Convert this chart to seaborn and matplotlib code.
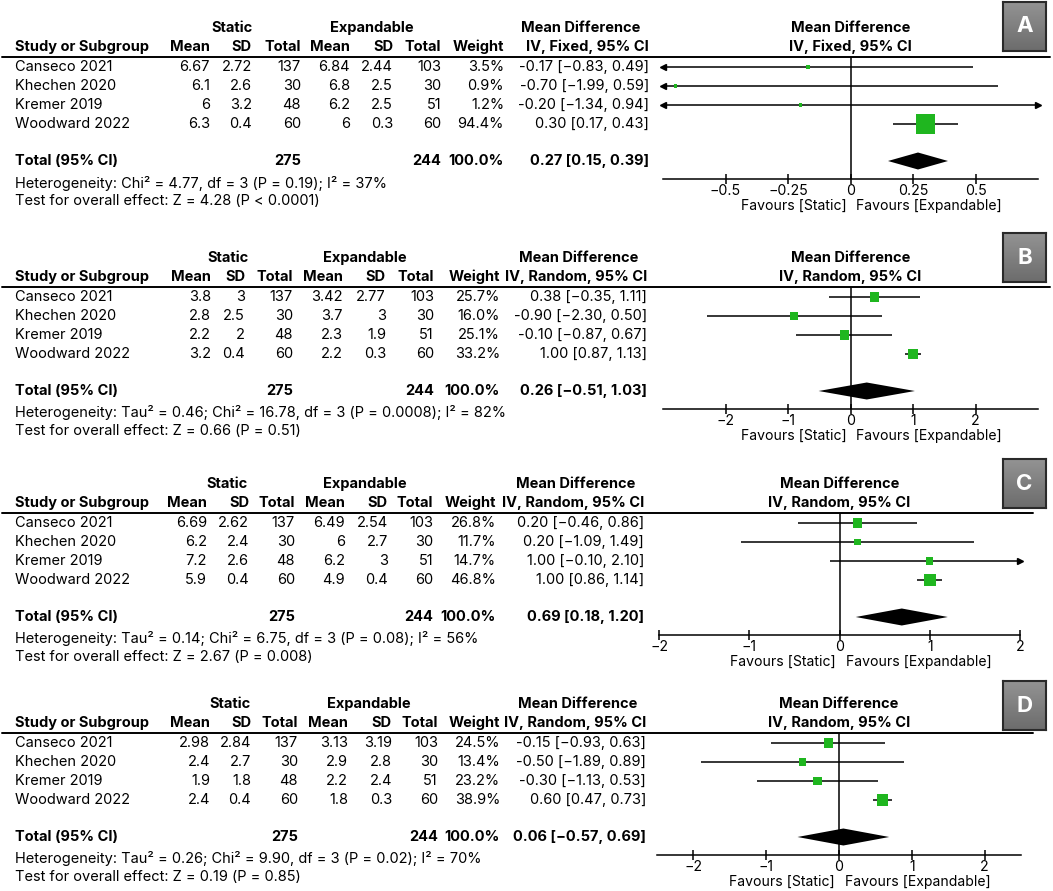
import numpy as np
import pandas as pd
import matplotlib
matplotlib.use("Agg")
import matplotlib.pyplot as plt
import seaborn as sns
from matplotlib.lines import Line2D
from matplotlib.colors import LinearSegmentedColormap

# ---------------- data ----------------
studies = ["Canseco 2021", "Khechen 2020", "Kremer 2019", "Woodward 2022"]
static_n = [137, 30, 48, 60]
exp_n = [103, 30, 51, 60]
total_static_n = 275
total_exp_n = 244

# Panel A
a_static_mean = [6.67, 6.1, 6, 6.3]
a_static_sd = [2.72, 2.6, 3.2, 0.4]
a_exp_mean = [6.84, 6.8, 6.2, 6]
a_exp_sd = [2.44, 2.5, 2.5, 0.3]
a_weight = [3.5, 0.9, 1.2, 94.4]
a_md = [-0.17, -0.70, -0.20, 0.30]
a_lo = [-0.83, -1.99, -1.34, 0.17]
a_hi = [0.49, 0.59, 0.94, 0.43]
a_total = [0.27, 0.15, 0.39]
a_method = "IV, Fixed, 95% CI"
a_het = "Heterogeneity: Chi² = 4.77, df = 3 (P = 0.19); I² = 37%"
a_test = "Test for overall effect: Z = 4.28 (P < 0.0001)"
a_ticks = [-0.5, -0.25, 0, 0.25, 0.5]
a_ticklabels = ["−0.5", "−0.25", "0", "0.25", "0.5"]

# Panel B
b_static_mean = [3.8, 2.8, 2.2, 3.2]
b_static_sd = [3, 2.5, 2, 0.4]
b_exp_mean = [3.42, 3.7, 2.3, 2.2]
b_exp_sd = [2.77, 3, 1.9, 0.3]
b_weight = [25.7, 16.0, 25.1, 33.2]
b_md = [0.38, -0.90, -0.10, 1.00]
b_lo = [-0.35, -2.30, -0.87, 0.87]
b_hi = [1.11, 0.50, 0.67, 1.13]
b_total = [0.26, -0.51, 1.03]
b_method = "IV, Random, 95% CI"
b_het = "Heterogeneity: Tau² = 0.46; Chi² = 16.78, df = 3 (P = 0.0008); I² = 82%"
b_test = "Test for overall effect: Z = 0.66 (P = 0.51)"
b_ticks = [-2, -1, 0, 1, 2]
b_ticklabels = ["−2", "−1", "0", "1", "2"]

# Panel C
c_static_mean = [6.69, 6.2, 7.2, 5.9]
c_static_sd = [2.62, 2.4, 2.6, 0.4]
c_exp_mean = [6.49, 6, 6.2, 4.9]
c_exp_sd = [2.54, 2.7, 3, 0.4]
c_weight = [26.8, 11.7, 14.7, 46.8]
c_md = [0.20, 0.20, 1.00, 1.00]
c_lo = [-0.46, -1.09, -0.10, 0.86]
c_hi = [0.86, 1.49, 2.10, 1.14]
c_total = [0.69, 0.18, 1.20]
c_method = "IV, Random, 95% CI"
c_het = "Heterogeneity: Tau² = 0.14; Chi² = 6.75, df = 3 (P = 0.08); I² = 56%"
c_test = "Test for overall effect: Z = 2.67 (P = 0.008)"
c_ticks = [-2, -1, 0, 1, 2]
c_ticklabels = ["−2", "−1", "0", "1", "2"]

# Panel D
d_static_mean = [2.98, 2.4, 1.9, 2.4]
d_static_sd = [2.84, 2.7, 1.8, 0.4]
d_exp_mean = [3.13, 2.9, 2.2, 1.8]
d_exp_sd = [3.19, 2.8, 2.4, 0.3]
d_weight = [24.5, 13.4, 23.2, 38.9]
d_md = [-0.15, -0.50, -0.30, 0.60]
d_lo = [-0.93, -1.89, -1.13, 0.47]
d_hi = [0.63, 0.89, 0.53, 0.73]
d_total = [0.06, -0.57, 0.69]
d_method = "IV, Random, 95% CI"
d_het = "Heterogeneity: Tau² = 0.26; Chi² = 9.90, df = 3 (P = 0.02); I² = 70%"
d_test = "Test for overall effect: Z = 0.19 (P = 0.85)"
d_ticks = [-2, -1, 0, 1, 2]
d_ticklabels = ["−2", "−1", "0", "1", "2"]

panel_letters = ["A", "B", "C", "D"]

# ---------------- style ----------------
sns.set_theme(style="white")
plt.rcParams["font.family"] = ["Inter", "DejaVu Sans"]
plt.rcParams["axes.unicode_minus"] = True

W, H = 1053, 891
fig = plt.figure(figsize=(W / 100, H / 100), dpi=100)
fig.patch.set_facecolor("white")

FS = 10.5
FS_AX = 10.1
GREEN = "#1fb61f"


def fx(x):
    return x / W


def fy(y):
    return 1 - y / H


def ft(x, y, s, **kw):
    kw.setdefault("fontsize", FS)
    kw.setdefault("va", "center")
    fig.text(fx(x), fy(y), s, color="black", **kw)


def fmt_md(v):
    return ("-" if v < 0 else "") + f"{abs(v):.2f}"


def fmt_ci(v):
    return ("−" if v < 0 else "") + f"{abs(v):.2f}"


gray_cmap = LinearSegmentedColormap.from_list("g", ["#939393", "#6c6c6c"])

panels = [
    dict(sm=a_static_mean, ssd=a_static_sd, em=a_exp_mean, esd=a_exp_sd, w=a_weight,
         md=a_md, lo=a_lo, hi=a_hi, tot=a_total, method=a_method, het=a_het, test=a_test,
         ticks=a_ticks, tl=a_ticklabels, xlim=(-0.75, 0.75),
         line=57, ax_l=663, ax_r=1038, line_r=1050, sscale=2.0,
         cols=[210, 252, 301, 350, 393, 441, 504, 649], box=(1003, 2)),
    dict(sm=b_static_mean, ssd=b_static_sd, em=b_exp_mean, esd=b_exp_sd, w=b_weight,
         md=b_md, lo=b_lo, hi=b_hi, tot=b_total, method=b_method, het=b_het, test=b_test,
         ticks=b_ticks, tl=b_ticklabels, xlim=(-3, 3),
         line=287, ax_l=663, ax_r=1038, line_r=1050, sscale=1.6,
         cols=[211, 245, 293, 343, 386, 434, 500, 647], box=(1003, 233)),
    dict(sm=c_static_mean, ssd=c_static_sd, em=c_exp_mean, esd=c_exp_sd, w=c_weight,
         md=c_md, lo=c_lo, hi=c_hi, tot=c_total, method=c_method, het=c_het, test=c_test,
         ticks=c_ticks, tl=c_ticklabels, xlim=(-2, 2),
         line=513, ax_l=659, ax_r=1020, line_r=1033, sscale=1.6,
         cols=[207, 249, 295, 345, 388, 433, 496, 644], box=(1003, 459)),
    dict(sm=d_static_mean, ssd=d_static_sd, em=d_exp_mean, esd=d_exp_sd, w=d_weight,
         md=d_md, lo=d_lo, hi=d_hi, tot=d_total, method=d_method, het=d_het, test=d_test,
         ticks=d_ticks, tl=d_ticklabels, xlim=(-2.5, 2.5),
         line=733, ax_l=657, ax_r=1021, line_r=1033, sscale=1.6,
         cols=[210, 251, 298, 348, 392, 438, 500, 646], box=(1003, 681)),
]

ROW_OFF = [10, 29, 48, 67]
TOT_OFF = 104
AXIS_OFF = 122

for p, letter in zip(panels, panel_letters):
    L = p["line"]
    c = p["cols"]
    # header texts
    ft((c[0] + c[2]) / 2 - 24, L - 29, "Static", ha="center", fontweight="bold")
    ft((c[3] + c[5]) / 2 - 24, L - 29, "Expandable", ha="center", fontweight="bold")
    ft(c[7] - 68, L - 29, "Mean Difference", ha="center", fontweight="bold")
    ft(15, L - 10, "Study or Subgroup", ha="left", fontweight="bold")
    for xx, lab in zip(c, ["Mean", "SD", "Total", "Mean", "SD", "Total", "Weight", p["method"]]):
        ft(xx, L - 10, lab, ha="right", fontweight="bold")
    zero_px = p["ax_l"] + (0 - p["xlim"][0]) / (p["xlim"][1] - p["xlim"][0]) * (p["ax_r"] - p["ax_l"])
    ft(zero_px, L - 29, "Mean Difference", ha="center", fontweight="bold")
    ft(zero_px, L - 10, p["method"], ha="center", fontweight="bold")

    # header rule
    fig.add_artist(Line2D([fx(2), fx(p["line_r"])], [fy(L), fy(L)], color="black", lw=1.4))

    # study rows
    for i, s in enumerate(studies):
        y = L + ROW_OFF[i]
        ft(15, y, s, ha="left")
        vals = [f"{p['sm'][i]:g}", f"{p['ssd'][i]:g}", f"{static_n[i]}",
                f"{p['em'][i]:g}", f"{p['esd'][i]:g}", f"{exp_n[i]}",
                f"{p['w'][i]:.1f}%",
                f"{fmt_md(p['md'][i])} [{fmt_ci(p['lo'][i])}, {fmt_ci(p['hi'][i])}]"]
        for xx, v in zip(c, vals):
            ft(xx, y, v, ha="right")

    # total row
    yT = L + TOT_OFF
    ft(15, yT, "Total (95% CI)", ha="left", fontweight="bold")
    ft(c[2], yT, f"{total_static_n}", ha="right", fontweight="bold")
    ft(c[5], yT, f"{total_exp_n}", ha="right", fontweight="bold")
    ft(c[6], yT, f"{sum(p['w']):.1f}%", ha="right", fontweight="bold")
    t = p["tot"]
    ft(c[7], yT, f"{fmt_md(t[0])} [{fmt_ci(t[1])}, {fmt_ci(t[2])}]", ha="right", fontweight="bold")
    ft(15, L + 126, p["het"], ha="left")
    ft(15, L + 144, p["test"], ha="left")

    # forest axes
    ax = fig.add_axes([fx(p["ax_l"]), fy(L + AXIS_OFF), fx(p["ax_r"] - p["ax_l"]), AXIS_OFF / H])
    ax.set_facecolor("none")
    ax.set_xlim(*p["xlim"])
    ax.set_ylim(AXIS_OFF, 0)
    x0, x1 = p["xlim"]
    for i in range(4):
        y = ROW_OFF[i]
        lo, hi = p["lo"][i], p["hi"][i]
        ax.plot([max(lo, x0), min(hi, x1)], [y, y], color="black", lw=1.1, zorder=2,
                clip_on=False, solid_capstyle="butt")
        if lo < x0:
            ax.plot([x0], [y], marker="<", ms=4.5, color="black", clip_on=False, zorder=2)
        if hi > x1:
            ax.plot([x1], [y], marker=">", ms=4.5, color="black", clip_on=False, zorder=2)
    df = pd.DataFrame({"md": p["md"], "y": ROW_OFF, "w": p["w"]})
    sns.scatterplot(data=df, x="md", y="y", size="w", sizes=(5, 100 * p["sscale"]),
                    size_norm=(0, 100), marker="s", color=GREEN, linewidth=0,
                    legend=False, ax=ax, zorder=3, clip_on=False)
    # diamond
    ax.fill([t[1], t[0], t[2], t[0]], [TOT_OFF, TOT_OFF - 8.5, TOT_OFF, TOT_OFF + 8.5],
            color="black", lw=0, zorder=3)
    ax.axvline(0, color="black", lw=1.1, zorder=1)
    ax.set_xlabel("")
    ax.set_ylabel("")
    for sp in ["top", "left", "right"]:
        ax.spines[sp].set_visible(False)
    ax.spines["bottom"].set_color("black")
    ax.spines["bottom"].set_linewidth(1.1)
    ax.set_yticks([])
    ax.set_xticks(p["ticks"])
    ax.set_xticklabels(p["tl"])
    ax.tick_params(axis="x", direction="inout", length=6.5, width=1.1, color="black",
                   pad=0.0, labelsize=FS_AX + 0.1, labelcolor="black", bottom=True)

    # favours labels
    ft(zero_px - 4, L + 149, "Favours [Static]", ha="right", fontsize=FS_AX)
    ft(zero_px + 6, L + 149, "Favours [Expandable]", ha="left", fontsize=FS_AX)

    # letter box
    bx, by = p["box"]
    bax = fig.add_axes([fx(bx), fy(by + 49), fx(43), 49 / H])
    grad = np.linspace(0, 1, 50).reshape(-1, 1)
    bax.imshow(grad, cmap=gray_cmap, aspect="auto", extent=(0, 1, 0, 1))
    bax.set_xticks([])
    bax.set_yticks([])
    for sp in bax.spines.values():
        sp.set_visible(True)
        sp.set_color("#2a2a2a")
        sp.set_linewidth(1.5)
    bax.text(0.5, 0.5, letter, color="white", fontsize=16, fontweight="bold",
             ha="center", va="center", transform=bax.transAxes)

fig.savefig("out.png", dpi=100, facecolor="white")
